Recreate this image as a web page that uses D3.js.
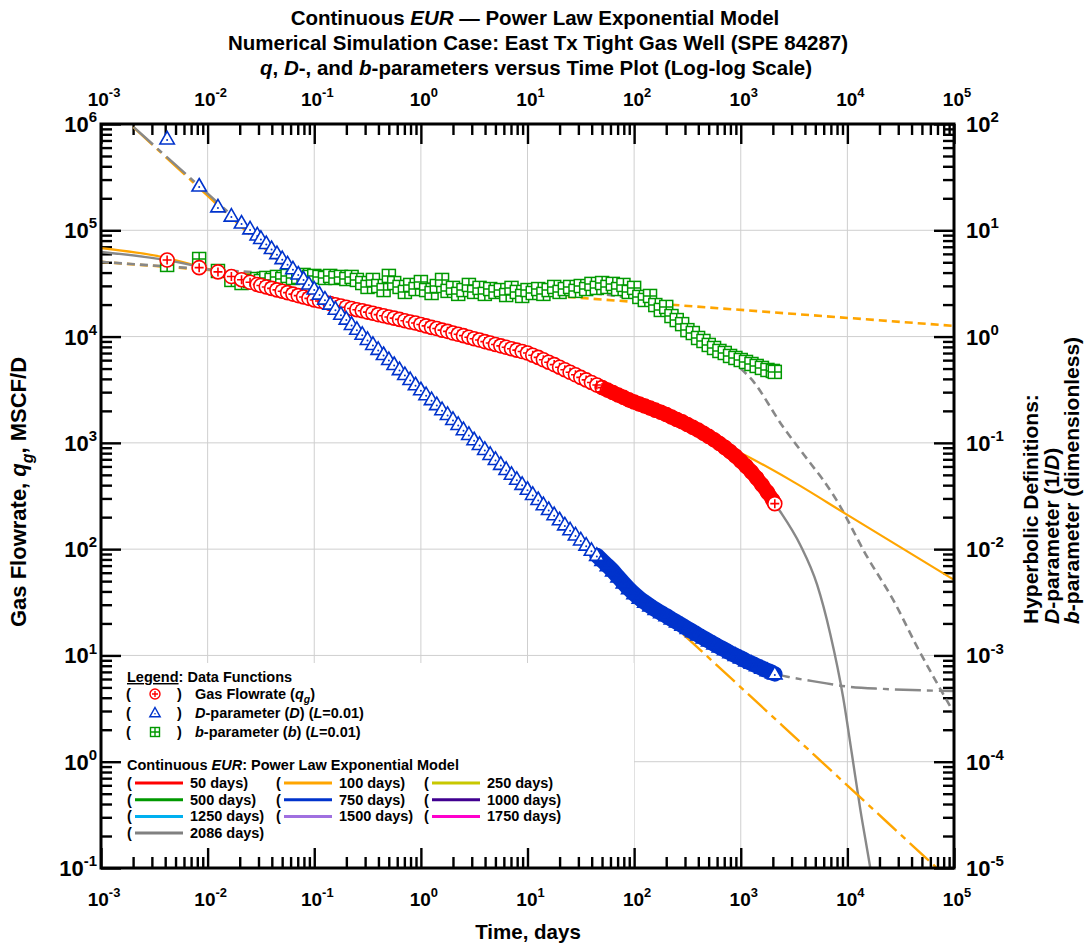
<!DOCTYPE html>
<html><head><meta charset="utf-8">
<script src="https://cdn.jsdelivr.net/npm/d3@7/dist/d3.min.js"></script>
<style>html,body{margin:0;padding:0;background:#fff;}svg{display:block}</style>
</head><body>
<svg id="chart" width="1084" height="944"></svg>
<script>
// ---------------- data ----------------
const days=[0.00417,0.00833,0.0125,0.0167,0.0208,0.025,0.0292,
0.0316,0.0355,0.0398,0.0447,0.0501,0.0562,0.0631,0.0708,0.0794,0.0891,
0.1,0.112,0.126,0.141,0.158,0.178,0.2,0.224,0.251,0.282,
0.316,0.355,0.398,0.447,0.501,0.562,0.631,0.708,0.794,0.891,
1,1.12,1.26,1.41,1.58,1.78,2,2.24,2.51,2.82,
3.16,3.55,3.98,4.47,5.01,5.62,6.31,7.08,7.94,8.91,
10,11.2,12.6,14.1,15.8,17.8,20,22.4,25.1,28.2,
31.6,35.5,39.8,44.7,50.1,
56.2,63.1,70.8,79.4,89.1,
100,112,126,141,158,178,200,224,251,282,
316,355,398,447,501,562,631,708,794,891,
1000,1120,1260,1410,1580,1780,2000,2086];
const gasRate=[52500,44500,40600,36700,34300,32400,30900,
30200,29300,28400,27500,26700,25900,25100,24300,23600,22900,
22100,21600,21000,20500,19900,19400,18900,18400,17900,17500,
17000,16600,16100,15700,15300,14900,14500,14100,13700,13400,
13000,12600,12200,11900,11500,11200,10800,10500,10200,9860,
9550,9270,8970,8710,8430,8180,7930,7690,7450,7230,
7000,6680,6370,6050,5740,5450,5150,4880,4610,4370,
4130,3910,3700,3500,3310,
3140,2980,2820,2680,2540,
2420,2320,2220,2130,2030,1940,1850,1750,1660,1580,
1490,1400,1320,1230,1150,1070,987,907,828,751,
676,604,533,466,403,343,288,268];
const dParam=[72.3,26.1,16.6,13.6,11.7,10.3,9.04,
8.38,7.50,6.73,6.03,5.41,4.84,4.34,3.88,3.48,3.12,
2.80,2.51,2.25,2.02,1.81,1.62,1.46,1.30,1.17,1.05,
0.94,0.843,0.757,0.678,0.608,0.546,0.489,0.439,0.394,0.352,
0.316,0.284,0.255,0.229,0.205,0.185,0.166,0.149,0.133,0.120,
0.107,0.0966,0.0867,0.0778,0.0698,0.0627,0.0562,0.0506,0.0454,0.0407,
0.0366,0.0327,0.0293,0.0262,0.0236,0.0211,0.0189,0.0169,0.0152,0.0136,
0.0122,0.0109,0.00975,0.00873,0.00782,
0.00700,0.00624,0.00547,0.00481,0.00425,
0.00380,0.00345,0.00316,0.00292,0.00271,0.00252,0.00236,0.00220,0.00206,0.00192,
0.00179,0.00167,0.00156,0.00146,0.00137,0.00128,0.00120,0.00113,0.00106,0.00100,
0.000946,0.000889,0.000843,0.000800,0.000759,0.000719,0.000684,0.000670];
const bParam=[4.72,5.37,4.14,3.41,3.19,3.33,3.48,
3.33,3.56,3.41,3.64,3.48,3.72,3.56,3.64,3.80,3.64,
3.72,3.64,3.56,3.72,3.56,3.64,3.48,3.64,3.41,3.19,
2.93,3.41,2.99,2.74,3.72,3.19,2.93,2.63,3.06,2.80,
3.26,2.74,2.57,2.99,3.41,2.69,2.87,2.52,2.74,3.06,
2.63,2.87,2.52,2.80,2.63,2.74,2.46,2.87,2.63,2.41,
2.74,2.57,2.80,2.52,2.74,2.93,2.63,2.80,2.93,2.69,
2.99,2.80,3.13,2.87,3.19,
2.93,3.13,2.80,3.06,2.63,
2.87,2.36,2.21,2.41,1.98,1.78,1.90,1.56,1.43,1.31,
1.15,1.08,0.970,0.909,0.834,0.781,0.732,0.701,0.657,0.629,
0.602,0.577,0.552,0.529,0.507,0.485,0.475,0.465];
const bandFromDay=44.7;   // simulation steps become so dense the markers merge into a band

// Continuous EUR model curves (only the 100-day and 2086-day fits are visible)
const m100RateDays=[0.001,0.00417,0.00833,0.0125,0.025,0.1,1,10,50,100,300,684,1000,2900,10000,100000];
const m100Rate=[68000,54800,45500,40800,32600,22100,13000,7000,3300,2420,1530,960,803,448,210,51.4];
const m100DDays=[0.001,10,100000];
const m100D=[178,0.0355,7.1e-6];
const m100BDays=[0.001,100000];
const m100B=[5.04,1.26];
const m2086RateDays=[0.001,0.00833,0.025,0.1,1,10,50.1,100,282,1000,2086,2343,3606,5210,6900,9140,11000,13200,16400,18000];
const m2086Rate=[62500,45200,32400,22100,13000,7000,3310,2420,1580,676,268,226,110,46,16,4.0,1.2,0.36,0.1,0.055];
const m2086DDays=[0.001,0.00833,0.1,1,10,50.1,79.4,100,158,282,1000,2086,3000,5210,10600,21700,100000];
const m2086D=[177,26.1,2.80,0.316,0.0366,0.00782,0.00481,0.00380,0.00271,0.00192,0.000946,0.00067,0.00062,0.000564,0.000506,0.000484,0.000463];
const m2086BDays=[0.001,0.01,0.1,1,10,100,300,500,1000,1224,2500,4480,5930,7690,15350,26900,45200,100000];
const m2086B=[5.04,4.3,3.7,3.2,2.8,2.27,1.3,0.91,0.50,0.41,0.141,0.0647,0.0448,0.0303,0.00845,0.00333,0.0012,0.000288];

const xTickExps=[-3,-2,-1,0,1,2,3,4,5];
const yLeftExps=[-1,0,1,2,3,4,5,6];
const yRightExps=[-5,-4,-3,-2,-1,0,1,2];
const modelLegend=["50 days","100 days","250 days","500 days","750 days","1000 days","1250 days","1500 days","1750 days","2086 days"];
const modelColors=["#ff0000","#ffa500","#c8c800","#009900","#0033cc","#400090","#00b0f0","#a070e0","#ff00cc","#808080"];

// ---------------- layout ----------------
const X0=101,X1=954,Y0=124,Y1=868;
const svg=d3.select("#chart");
const x=d3.scaleLog().domain([1e-3,1e5]).range([X0,X1]);
const yL=d3.scaleLog().domain([1e-1,1e6]).range([Y1,Y0]);
const yR=d3.scaleLog().domain([1e-5,1e2]).range([Y1,Y0]);
const SANS='"Liberation Sans", Arial, sans-serif';

function rich(parent,parts,o){
  const size=o.size;
  const g=parent.append("g").attr("transform",`translate(${o.x},${o.y}) rotate(${o.rotate||0})`);
  const t=g.append("text").attr("font-size",size).attr("font-weight",o.weight||"bold")
    .attr("text-anchor",o.anchor||"start").attr("font-family",SANS).attr("fill",o.fill||"#000");
  let shift=0;
  parts.forEach(p=>{
    if(typeof p==="string")p={t:p};
    const s=t.append("tspan").text(p.t);
    let target=0;
    if(p.sub){target=size*0.3;s.attr("font-size",size*0.72);}
    if(p.sup){target=-size*0.45;s.attr("font-size",size*0.68);}
    if(target!==shift){s.attr("dy",target-shift);shift=target;}
    if(p.i)s.attr("font-style","italic");
    if(p.u)s.attr("text-decoration","underline");
  });
  return g;
}

// ---------------- grid ----------------
const grid=svg.append("g").attr("stroke","#cfcfcf").attr("stroke-width",1);
xTickExps.slice(1,-1).forEach(e=>grid.append("line").attr("x1",x(10**e)).attr("x2",x(10**e)).attr("y1",Y0).attr("y2",Y1));
yLeftExps.slice(1,-1).forEach(e=>grid.append("line").attr("y1",yL(10**e)).attr("y2",yL(10**e)).attr("x1",X0).attr("x2",X1));

// legend background (hides grid)
svg.append("rect").attr("x",X0+2).attr("y",663).attr("width",634-X0-2).attr("height",Y1-663-1).attr("fill","#fff");

// ---------------- axes (ticks inside) ----------------
function minors(exps){const m=[];for(let k=0;k<exps.length-1;k++)for(let j=2;j<=9;j++)m.push(j*10**exps[k]);return m;}
const xMaj=xTickExps.map(e=>10**e), xMin=minors(xTickExps);
const yLMaj=yLeftExps.map(e=>10**e), yLMin=minors(yLeftExps);
const yRMaj=yRightExps.map(e=>10**e), yRMin=minors(yRightExps);
function axisG(gen,tx,ty){
  const g=svg.append("g").attr("transform",`translate(${tx},${ty})`).call(gen);
  g.select(".domain").remove();
  g.selectAll("text").remove();
  g.selectAll(".tick line").attr("stroke","#000").attr("stroke-width",2.4);
}
axisG(d3.axisBottom(x).tickValues(xMaj).tickSize(-20).tickFormat(""),0,Y1);
axisG(d3.axisBottom(x).tickValues(xMin).tickSize(-11).tickFormat(""),0,Y1);
axisG(d3.axisTop(x).tickValues(xMaj).tickSize(-20).tickFormat(""),0,Y0);
axisG(d3.axisTop(x).tickValues(xMin).tickSize(-11).tickFormat(""),0,Y0);
axisG(d3.axisLeft(yL).tickValues(yLMaj).tickSize(-20).tickFormat(""),X0,0);
axisG(d3.axisLeft(yL).tickValues(yLMin).tickSize(-11).tickFormat(""),X0,0);
axisG(d3.axisRight(yR).tickValues(yRMaj).tickSize(-20).tickFormat(""),X1,0);
axisG(d3.axisRight(yR).tickValues(yRMin).tickSize(-11).tickFormat(""),X1,0);

// tick labels
xTickExps.forEach(e=>{
  rich(svg,["10",{t:String(e),sup:1}],{x:x(10**e)+3,y:106,size:19,anchor:"middle"});
  rich(svg,["10",{t:String(e),sup:1}],{x:x(10**e)+3,y:906,size:19,anchor:"middle"});
});
yLeftExps.forEach(e=>rich(svg,["10",{t:String(e),sup:1}],{x:97,y:yL(10**e)+8,size:22,anchor:"end"}));
yRightExps.forEach(e=>rich(svg,["10",{t:String(e),sup:1}],{x:966,y:yR(10**e)+8,size:22,anchor:"start"}));

// titles
rich(svg,["Continuous ",{t:"EUR",i:1}," \u2014 Power Law Exponential Model"],{x:535,y:25,size:20.5,anchor:"middle"});
rich(svg,["Numerical Simulation Case: East Tx Tight Gas Well (SPE 84287)"],{x:538,y:50,size:20.5,anchor:"middle"});
rich(svg,[{t:"q",i:1},", ",{t:"D",i:1},"-, and ",{t:"b",i:1},"-parameters versus Time Plot (Log-log Scale)"],{x:536,y:75,size:20.5,anchor:"middle"});
rich(svg,["Time, days"],{x:528,y:939,size:20.5,anchor:"middle"});
rich(svg,["Gas Flowrate, ",{t:"q",i:1},{t:"g",i:1,sub:1},", MSCF/D"],{x:26,y:492,size:22,anchor:"middle",rotate:-90});
rich(svg,["Hyperbolic Definitions:"],{x:1038,y:624,size:21,rotate:-90});
rich(svg,[{t:"D",i:1},"-parameter (1/",{t:"D",i:1},")"],{x:1058.5,y:624,size:21,rotate:-90});
rich(svg,[{t:"b",i:1},"-parameter (dimensionless)"],{x:1079,y:624,size:21,rotate:-90});

// ---------------- plot content ----------------
svg.append("clipPath").attr("id","clip").append("rect").attr("x",X0).attr("y",Y0).attr("width",X1-X0).attr("height",Y1-Y0);
const plot=svg.append("g").attr("clip-path","url(#clip)");
const line=(ys)=>d3.line().x(d=>x(d[0])).y(d=>ys(d[1])).curve(d3.curveMonotoneX);

function curve(dd,vv,ys,color,dash,w){
  plot.append("path").datum(d3.zip(dd,vv)).attr("d",line(ys)).attr("fill","none")
    .attr("stroke",color).attr("stroke-width",w).attr("stroke-dasharray",dash||null);
}
const ORANGE="#ffa500", GRAY="#888888";
curve(m100BDays,m100B,yR,ORANGE,"8,5",2.6);
curve(m2086BDays,m2086B,yR,GRAY,"8,5",2.6);
curve(m100RateDays,m100Rate,yL,ORANGE,null,2.2);
curve(m2086RateDays,m2086Rate,yL,GRAY,null,2.4);
curve(m100DDays,m100D,yR,ORANGE,"26,6,6,6",2.4);
curve(m2086DDays,m2086D,yR,GRAY,"26,6,6,6",2.4);

const RED="#ff0000", BLUE="#0033cc", GREEN="#009900";
const last=days.length-1;
const pts=(vals)=>days.map((t,i)=>({t,v:vals[i],i}));
function band(vals,ys,color,w){
  plot.append("path").datum(pts(vals).filter(d=>d.t>=bandFromDay)).attr("fill","none")
    .attr("stroke",color).attr("stroke-width",w).attr("stroke-linecap","round").attr("stroke-linejoin","round")
    .attr("d",d3.line().x(d=>x(d.t)).y(d=>ys(d.v)).curve(d3.curveMonotoneX));
}
const merged=d=>d.t>50 && d.i<last;

// b-parameter (green squares with plus)
plot.append("g").selectAll("g").data(pts(bParam)).join("g")
  .attr("transform",d=>`translate(${x(d.t)},${yR(d.v)})`)
  .each(function(){const g=d3.select(this);
    g.append("rect").attr("x",-6.5).attr("y",-6.5).attr("width",13).attr("height",13).attr("fill","#fff").attr("stroke",GREEN).attr("stroke-width",1.5);
    g.append("path").attr("d","M-6.5,0H6.5M0,-6.5V6.5").attr("stroke",GREEN).attr("stroke-width",1.5);});

// gas rate (red circles with plus)
band(gasRate,yL,RED,14.5);
plot.append("g").selectAll("g").data(pts(gasRate)).join("g")
  .attr("transform",d=>`translate(${x(d.t)},${yL(d.v)})`)
  .each(function(d){const g=d3.select(this);
    g.append("circle").attr("r",7).attr("fill",merged(d)?"none":"#fff").attr("stroke",RED).attr("stroke-width",1.6);
    g.append("path").attr("d","M-4.5,0H4.5M0,-4.5V4.5").attr("stroke",RED).attr("stroke-width",1.6);});

// D-parameter (blue triangles with dot)
band(dParam,yR,BLUE,15.5);
plot.append("g").selectAll("g").data(pts(dParam)).join("g")
  .attr("transform",d=>`translate(${x(d.t)},${yR(d.v)})`)
  .each(function(d){const g=d3.select(this);
    g.append("path").attr("d","M0,-7.5L7.2,5L-7.2,5Z").attr("fill",merged(d)?"none":"#fff").attr("stroke",BLUE).attr("stroke-width",1.6);
    g.append("circle").attr("cy",1).attr("r",1).attr("fill",BLUE);});

// ---------------- frame ----------------
svg.append("rect").attr("x",X0).attr("y",Y0).attr("width",X1-X0).attr("height",Y1-Y0).attr("fill","none").attr("stroke","#000").attr("stroke-width",3);

// ---------------- legend ----------------
const lg=svg.append("g");
const LF=14.5;
rich(lg,[{t:"Legend",u:1},":  Data Functions"],{x:127,y:682,size:LF});
const dataLegend=[
  {parts:["Gas Flowrate (",{t:"q",i:1},{t:"g",i:1,sub:1},{t:")"}],kind:"c"},
  {parts:[{t:"D",i:1},"-parameter (",{t:"D",i:1},") (",{t:"L",i:1},"=0.01)"],kind:"t"},
  {parts:[{t:"b",i:1},"-parameter (",{t:"b",i:1},") (",{t:"L",i:1},"=0.01)"],kind:"s"}];
dataLegend.forEach((r,k)=>{
  const yb=699+k*19, yc=yb-5;
  rich(lg,["("],{x:126,y:yb,size:LF});
  rich(lg,[")"],{x:177,y:yb,size:LF});
  rich(lg,r.parts,{x:195,y:yb,size:LF});
  const m=lg.append("g").attr("transform",`translate(155,${yc})`);
  if(r.kind==="c"){m.append("circle").attr("r",5).attr("fill","#fff").attr("stroke",RED).attr("stroke-width",1.4);
    m.append("path").attr("d","M-3,0H3M0,-3V3").attr("stroke",RED).attr("stroke-width",1.4);}
  if(r.kind==="t"){m.append("path").attr("d","M0,-5.5L5.2,3.8L-5.2,3.8Z").attr("fill","#fff").attr("stroke",BLUE).attr("stroke-width",1.4);
    m.append("circle").attr("cy",0.8).attr("r",0.8).attr("fill",BLUE);}
  if(r.kind==="s"){m.append("rect").attr("x",-4.5).attr("y",-4.5).attr("width",9).attr("height",9).attr("fill","#fff").attr("stroke",GREEN).attr("stroke-width",1.4);
    m.append("path").attr("d","M-4.5,0H4.5M0,-4.5V4.5").attr("stroke",GREEN).attr("stroke-width",1.4);}
});
rich(lg,["Continuous ",{t:"EUR",i:1},": Power Law Exponential Model"],{x:127,y:770,size:LF});
const colX=[127,276,424];
modelLegend.forEach((lab,k)=>{
  const c=k%3, r=Math.floor(k/3), cx=colX[c], yb=788+r*16.7;
  rich(lg,["("],{x:cx,y:yb,size:LF});
  lg.append("line").attr("x1",cx+8).attr("x2",cx+56).attr("y1",yb-5).attr("y2",yb-5).attr("stroke",modelColors[k]).attr("stroke-width",3);
  rich(lg,[lab+")"],{x:cx+63,y:yb,size:LF});
});
</script>
</body></html>
